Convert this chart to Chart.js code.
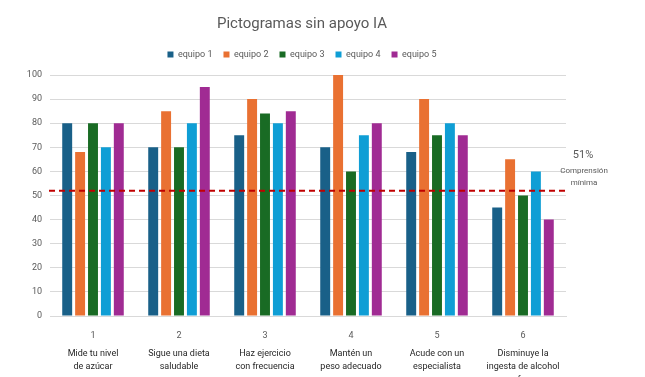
<!DOCTYPE html>
<html>
<head>
<meta charset="utf-8">
<script src="https://cdn.jsdelivr.net/npm/chart.js@4"></script>
<style>
  html, body { margin: 0; padding: 0; background: #fff; }
  #wrap { width: 645px; height: 377px; }
</style>
</head>
<body>
<div id="wrap"><canvas id="chart"></canvas></div>
<script>
const numeros = ['1', '2', '3', '4', '5', '6'];
const recomendaciones = [
  ['Mide tu nivel', 'de azúcar'],
  ['Sigue una dieta', 'saludable'],
  ['Haz ejercicio', 'con frecuencia'],
  ['Mantén un', 'peso adecuado'],
  ['Acude con un', 'especialista'],
  ['Disminuye la', 'ingesta de alcohol', 'y refresco']
];
const equipo1 = [80, 70, 75, 70, 68, 45];
const equipo2 = [68, 85, 90, 100, 90, 65];
const equipo3 = [80, 70, 84, 60, 75, 50];
const equipo4 = [70, 80, 80, 75, 80, 60];
const equipo5 = [80, 95, 85, 80, 75, 40];
const umbral = 52;
const umbralTexto = ['51%', 'Comprensión', 'mínima'];
const yTicks = [0, 10, 20, 30, 40, 50, 60, 70, 80, 90, 100];

const colores = ['#196088', '#e97132', '#196b24', '#0f9ed5', '#a02b93'];
const fuente = 'Roboto, "Liberation Sans", sans-serif';

// línea punteada de comprensión mínima + etiqueta a la derecha
const lineaUmbral = {
  id: 'lineaUmbral',
  afterDatasetsDraw(chart) {
    const { ctx, chartArea } = chart;
    const y = chart.scales.y.getPixelForValue(umbral);
    ctx.save();
    ctx.strokeStyle = '#c00000';
    ctx.lineWidth = 2;
    ctx.setLineDash([6, 4]);
    ctx.beginPath();
    ctx.moveTo(chartArea.left - 1, y);
    ctx.lineTo(chartArea.right, y);
    ctx.stroke();
    ctx.setLineDash([]);
    ctx.fillStyle = '#595959';
    ctx.textAlign = 'center';
    ctx.textBaseline = 'middle';
    const cx = chartArea.right + 17;
    ctx.font = '11px ' + fuente;
    ctx.fillText(umbralTexto[0], cx, y - 35);
    ctx.font = '8px ' + fuente;
    ctx.fillText(umbralTexto[1], cx + 1, y - 20);
    ctx.fillText(umbralTexto[2], cx + 1, y - 8);
    ctx.restore();
  }
};

// un poco más de aire bajo la leyenda
const espacioLeyenda = {
  id: 'espacioLeyenda',
  beforeInit(chart) {
    const fit = chart.legend.fit;
    chart.legend.fit = function () {
      fit.call(this);
      this.height += 6;
    };
  }
};

const datos = [equipo1, equipo2, equipo3, equipo4, equipo5];

new Chart(document.getElementById('chart'), {
  type: 'bar',
  data: {
    labels: numeros,
    datasets: datos.map((d, i) => ({
      label: 'equipo ' + (i + 1),
      data: d,
      backgroundColor: colores[i],
      categoryPercentage: 0.75,
      barPercentage: 0.77
    }))
  },
  options: {
    responsive: true,
    maintainAspectRatio: false,
    animation: false,
    layout: { padding: { top: 15, right: 41, left: 0, bottom: 0 } },
    plugins: {
      title: {
        display: true,
        text: 'Pictogramas sin apoyo IA',
        color: '#595959',
        font: { family: fuente, size: 15, weight: 'normal' },
        padding: { top: 0, bottom: 6 }
      },
      legend: {
        position: 'top',
        labels: {
          color: '#595959',
          font: { family: fuente, size: 9 },
          boxWidth: 6,
          boxHeight: 6,
          padding: 11
        }
      },
      tooltip: { enabled: false }
    },
    scales: {
      x: {
        grid: { display: false },
        border: { color: '#d9d9d9' },
        ticks: { color: '#595959', font: { family: fuente, size: 9 }, padding: 6 },
        afterFit(s) { s.height = 30; }
      },
      x2: {
        type: 'category',
        position: 'bottom',
        labels: recomendaciones,
        grid: { display: false, drawTicks: false },
        border: { display: false },
        ticks: { color: '#262626', font: { family: fuente, size: 9, lineHeight: 1.45 }, padding: 1 },
        afterFit(s) { s.height = 31; }
      },
      y: {
        min: 0,
        max: 100,
        afterBuildTicks(s) { s.ticks = yTicks.map(v => ({ value: v })); },
        grid: { color: '#d9d9d9', drawTicks: false },
        border: { display: false },
        ticks: { color: '#595959', font: { family: fuente, size: 9 }, padding: 8 },
        afterFit(s) { s.width = 50; }
      },
      yDer: {
        position: 'right',
        grid: { display: false },
        border: { display: false },
        ticks: { display: false },
        afterFit(s) { s.width = 38; }
      }
    }
  },
  plugins: [lineaUmbral, espacioLeyenda]
});
</script>
</body>
</html>
